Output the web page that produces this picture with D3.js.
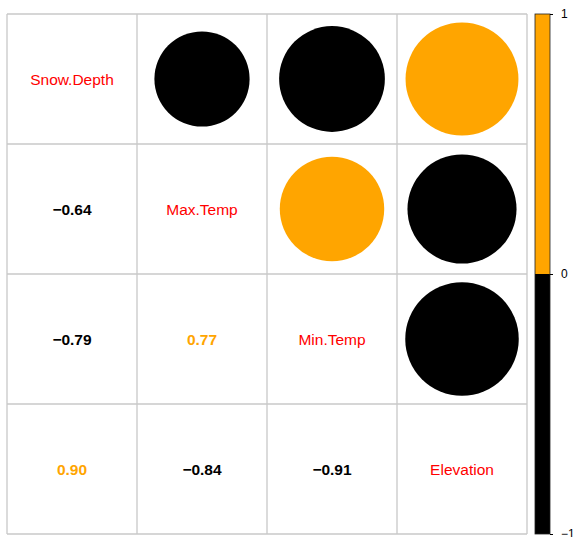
<!DOCTYPE html>
<html>
<head>
<meta charset="utf-8">
<script src="https://cdn.jsdelivr.net/npm/d3@7"></script>
<style>
  body { margin: 0; background: #fff; }
  text { font-family: "Liberation Sans", Arial, sans-serif; }
</style>
</head>
<body>
<script>
// variables, in plot order
const vars = ["Snow.Depth", "Max.Temp", "Min.Temp", "Elevation"];
// correlation matrix
const corr = [
  [1.00, -0.64, -0.79, 0.90],
  [-0.64, 1.00, 0.77, -0.84],
  [-0.79, 0.77, 1.00, -0.91],
  [0.90, -0.84, -0.91, 1.00]
];
const barTicks = [1, 0, -1];

function drawGrid(svg, cell) {
  // cell borders
  svg.selectAll("line.gx")
    .data(d3.range(vars.length + 1))
    .enter().append("line")
    .attr("x1", i => 7 + i * cell).attr("x2", i => 7 + i * cell)
    .attr("y1", 14).attr("y2", 14 + vars.length * cell)
    .attr("stroke", "#c8c8c8").attr("stroke-width", 1.3);
  svg.selectAll("line.gy")
    .data(d3.range(vars.length + 1))
    .enter().append("line")
    .attr("y1", i => 14 + i * cell).attr("y2", i => 14 + i * cell)
    .attr("x1", 7).attr("x2", 7 + vars.length * cell)
    .attr("stroke", "#c8c8c8").attr("stroke-width", 1.3);
}

function main() {
  const cell = 130;
  const svg = d3.select("body").append("svg")
    .attr("width", 574).attr("height", 537);

  const x = d3.scaleBand().domain(vars).range([7, 7 + 4 * cell]);
  const y = d3.scaleBand().domain(vars).range([14, 14 + 4 * cell]);
  const rScale = d3.scaleSqrt().domain([0, 1]).range([0, 59.5]);
  const col = v => v < 0 ? "#000000" : "#FFA500";

  drawGrid(svg, cell);

  const cells = [];
  corr.forEach((row, i) => row.forEach((v, j) => cells.push({ i, j, v })));

  // upper triangle: circles
  svg.selectAll("circle.c")
    .data(cells.filter(d => d.j > d.i))
    .enter().append("circle")
    .attr("cx", d => x(vars[d.j]) + x.bandwidth() / 2)
    .attr("cy", d => y(vars[d.i]) + y.bandwidth() / 2)
    .attr("r", d => rScale(Math.abs(d.v)))
    .attr("fill", d => col(d.v));

  // lower triangle: numbers
  svg.selectAll("text.n")
    .data(cells.filter(d => d.j < d.i))
    .enter().append("text")
    .attr("x", d => x(vars[d.j]) + x.bandwidth() / 2)
    .attr("y", d => y(vars[d.i]) + y.bandwidth() / 2)
    .attr("dy", "0.36em")
    .attr("text-anchor", "middle")
    .style("font-size", "15.5px")
    .style("font-weight", "bold")
    .attr("fill", d => col(d.v))
    .text(d => d3.format(".2f")(d.v).replace("-", "\u2212"));

  // diagonal: names
  svg.selectAll("text.lab")
    .data(vars)
    .enter().append("text")
    .attr("x", d => x(d) + x.bandwidth() / 2)
    .attr("y", d => y(d) + y.bandwidth() / 2)
    .attr("dy", "0.36em")
    .attr("text-anchor", "middle")
    .style("font-size", "15.5px")
    .attr("fill", "#ff0000")
    .text(d => d);

  // colour bar
  const yBar = d3.scaleLinear().domain([-1, 1]).range([534, 14]);
  svg.append("rect")
    .attr("x", 535).attr("y", yBar(1)).attr("width", 15)
    .attr("height", yBar(0) - yBar(1)).attr("fill", "#FFA500");
  svg.append("rect")
    .attr("x", 535).attr("y", yBar(0)).attr("width", 15)
    .attr("height", yBar(-1) - yBar(0)).attr("fill", "#000000");
  svg.append("rect")
    .attr("x", 535).attr("y", yBar(1)).attr("width", 15)
    .attr("height", yBar(-1) - yBar(1))
    .attr("fill", "none").attr("stroke", "#222").attr("stroke-width", 0.8);

  const axis = d3.axisRight(yBar).tickValues(barTicks).tickSize(3)
    .tickFormat(d => d < 0 ? "\u22121" : String(d));
  const gA = svg.append("g")
    .attr("transform", "translate(550,0)")
    .call(axis);
  gA.select(".domain").remove();
  gA.selectAll("text")
    .attr("x", 11)
    .style("font-size", "12px")
    .style("font-family", "Liberation Sans, Arial, sans-serif");
}

main();
</script>
</body>
</html>
